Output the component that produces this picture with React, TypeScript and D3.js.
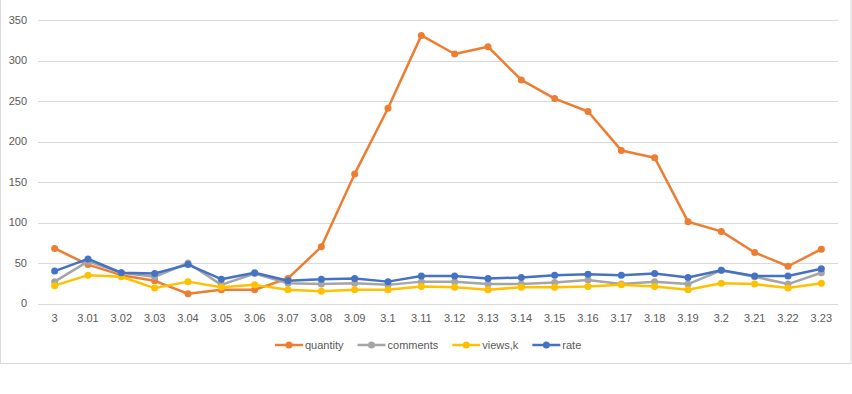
import * as d3 from "d3";
import React, { useEffect, useRef } from "react";

// Data
const categories = [
  "3", "3.01", "3.02", "3.03", "3.04", "3.05", "3.06", "3.07", "3.08", "3.09", "3.1", "3.11",
  "3.12", "3.13", "3.14", "3.15", "3.16", "3.17", "3.18", "3.19", "3.2", "3.21", "3.22", "3.23",
];
const quantity = [68, 48, 35, 28, 12, 17, 17, 31, 70, 160, 241, 331, 308, 317, 276, 253, 237, 189, 180, 101, 89, 63, 46, 67];
const comments = [27, 52, 38, 33, 50, 23, 37, 25, 24, 25, 23, 27, 27, 24, 24, 26, 29, 24, 27, 24, 41, 33, 24, 38];
const viewsK = [22, 35, 33, 19, 27, 20, 23, 17, 15, 17, 17, 21, 20, 17, 20, 20, 21, 23, 21, 17, 25, 24, 19, 25];
const rate = [40, 55, 38, 37, 48, 30, 38, 28, 30, 31, 27, 34, 34, 31, 32, 35, 36, 35, 37, 32, 41, 34, 34, 43];
const yTicks = [0, 50, 100, 150, 200, 250, 300, 350];

const seriesList = [
  { name: "quantity", values: quantity, color: "#ED7D31" },
  { name: "comments", values: comments, color: "#A5A5A5" },
  { name: "views,k", values: viewsK, color: "#FFC000" },
  { name: "rate", values: rate, color: "#4472C4" },
];

const width = 852;
const height = 394;

const App: React.FC = () => {
  const svgRef = useRef<SVGSVGElement>(null);

  useEffect(() => {
    if (!svgRef.current) return;
    const svg = d3.select(svgRef.current);
    svg.selectAll("*").remove();

    const font = "'Liberation Sans', Arial, sans-serif";
    const plot = { left: 38, right: 838, top: 20, bottom: 303.5 };

    // chart area border
    svg
      .append("rect")
      .attr("x", 0.5)
      .attr("y", -2)
      .attr("width", 850.5)
      .attr("height", 365.5)
      .attr("fill", "#fff")
      .attr("stroke", "#d9d9d9");

    const x = d3.scaleBand().domain(categories).range([plot.left, plot.right]);
    const y = d3.scaleLinear().domain([0, 350]).range([plot.bottom, plot.top]);
    const cx = (c: string) => (x(c) || 0) + x.bandwidth() / 2;

    // gridlines
    svg
      .append("g")
      .selectAll("line")
      .data(yTicks)
      .join("line")
      .attr("x1", plot.left)
      .attr("x2", plot.right)
      .attr("y1", (d) => Math.round(y(d)) + 0.5)
      .attr("y2", (d) => Math.round(y(d)) + 0.5)
      .attr("stroke", "#d9d9d9")
      .attr("stroke-width", 1);

    // y tick labels
    svg
      .append("g")
      .selectAll("text")
      .data(yTicks)
      .join("text")
      .attr("x", 27)
      .attr("y", (d) => y(d))
      .attr("dy", "0.35em")
      .attr("text-anchor", "end")
      .attr("fill", "#595959")
      .style("font-family", font)
      .style("font-size", "11px")
      .text((d) => d);

    // x tick labels
    svg
      .append("g")
      .selectAll("text")
      .data(categories)
      .join("text")
      .attr("x", (d) => cx(d))
      .attr("y", 318)
      .attr("dy", "0.35em")
      .attr("text-anchor", "middle")
      .attr("fill", "#595959")
      .style("font-family", font)
      .style("font-size", "11px")
      .text((d) => d);

    // series lines + markers
    const line = d3
      .line<number>()
      .x((_, i) => cx(categories[i]))
      .y((d) => y(d));

    seriesList.forEach((s) => {
      const g = svg.append("g");
      g.append("path")
        .datum(s.values)
        .attr("d", line)
        .attr("fill", "none")
        .attr("stroke", s.color)
        .attr("stroke-width", 2.5)
        .attr("stroke-linejoin", "round")
        .attr("stroke-linecap", "round");
      g.selectAll("circle")
        .data(s.values)
        .join("circle")
        .attr("cx", (_, i) => cx(categories[i]))
        .attr("cy", (d) => y(d))
        .attr("r", 3.5)
        .attr("fill", s.color);
    });

    // legend
    const legend = svg.append("g").attr("transform", "translate(275,345)");
    let offset = 0;
    seriesList.forEach((s) => {
      const item = legend.append("g").attr("transform", `translate(${offset},0)`);
      item
        .append("line")
        .attr("x1", 0)
        .attr("x2", 28)
        .attr("y1", 0)
        .attr("y2", 0)
        .attr("stroke", s.color)
        .attr("stroke-width", 2.5);
      item.append("circle").attr("cx", 14).attr("cy", 0).attr("r", 3.5).attr("fill", s.color);
      const label = item
        .append("text")
        .attr("x", 30)
        .attr("y", 0)
        .attr("dy", "0.35em")
        .attr("fill", "#595959")
        .style("font-family", font)
        .style("font-size", "11px")
        .text(s.name);
      const w = (label.node() as SVGTextElement).getComputedTextLength();
      offset += 30 + w + 14;
    });
  }, []);

  return (
    <svg
      ref={svgRef}
      width={width}
      height={height}
      style={{ position: "absolute", left: 0, top: 0, background: "#fff" }}
    />
  );
};

export default App;
